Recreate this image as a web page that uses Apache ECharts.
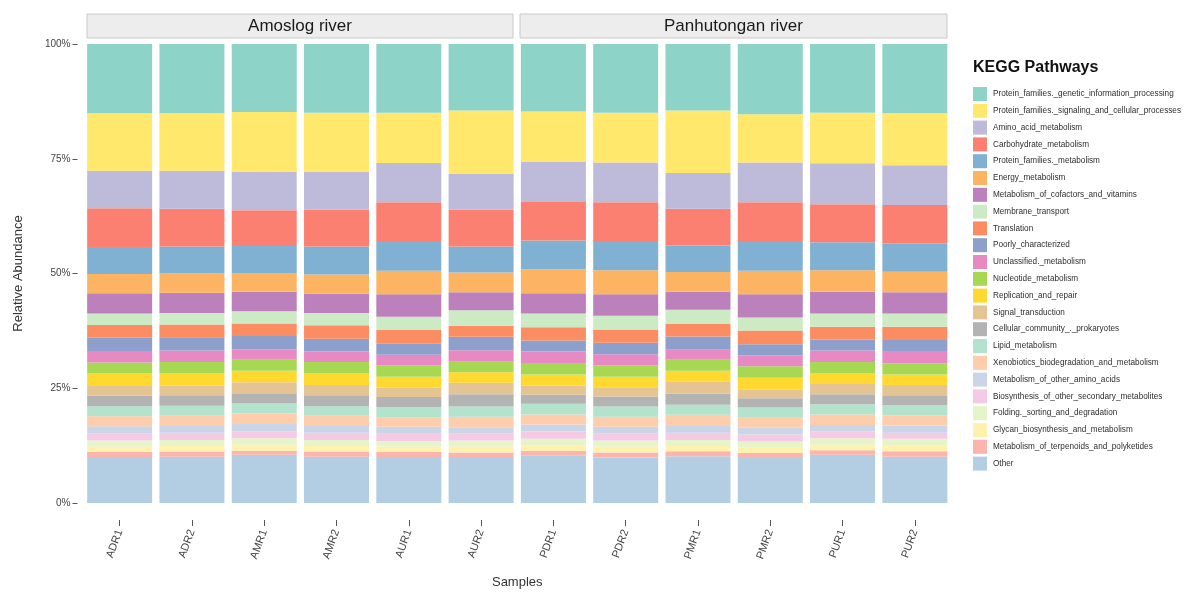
<!DOCTYPE html>
<html>
<head>
<meta charset="utf-8">
<script src="https://cdn.jsdelivr.net/npm/echarts@6/dist/echarts.min.js"></script>
<style>
  html, body { margin: 0; padding: 0; background: #ffffff; }
  #chart { width: 1187px; height: 592px; }
</style>
</head>
<body>
<div id="chart"></div>
<script>
// Samples along the x axis, grouped by river
const samples = ['ADR1', 'ADR2', 'AMR1', 'AMR2', 'AUR1', 'AUR2', 'PDR1', 'PDR2', 'PMR1', 'PMR2', 'PUR1', 'PUR2'];
const rivers = ['Amoslog river', 'Panhutongan river'];
const yTicks = [0, 25, 50, 75, 100];

// KEGG pathways, listed from the top of each bar to the bottom
const pathways = [
  'Protein_families._genetic_information_processing',
  'Protein_families._signaling_and_cellular_processes',
  'Amino_acid_metabolism',
  'Carbohydrate_metabolism',
  'Protein_families._metabolism',
  'Energy_metabolism',
  'Metabolism_of_cofactors_and_vitamins',
  'Membrane_transport',
  'Translation',
  'Poorly_characterized',
  'Unclassified._metabolism',
  'Nucleotide_metabolism',
  'Replication_and_repair',
  'Signal_transduction',
  'Cellular_community_._prokaryotes',
  'Lipid_metabolism',
  'Xenobiotics_biodegradation_and_metabolism',
  'Metabolism_of_other_amino_acids',
  'Biosynthesis_of_other_secondary_metabolites',
  'Folding._sorting_and_degradation',
  'Glycan_biosynthesis_and_metabolism',
  'Metabolism_of_terpenoids_and_polyketides',
  'Other'
];

const pathwayColors = [
  '#8DD3C7', '#FFE86C', '#BEBADA', '#FB8072', '#80B1D3', '#FDB462',
  '#BC80BD', '#CCEBC5', '#FC8D62', '#8DA0CB', '#E78AC3', '#A6D854',
  '#FFD92F', '#E5C494', '#B3B3B3', '#B3E2CD', '#FDCDAC', '#CBD5E8',
  '#F4CAE4', '#E6F5C9', '#FFF2AE', '#FBB4AE', '#B3CDE3'
];

// Relative abundance (%) per sample, same order as pathways
const ADR1 = [15.1, 12.5, 8.2, 8.4, 5.9, 4.2, 4.4, 2.5, 2.8, 2.9, 2.5, 2.4, 2.7, 2.1, 2.3, 2.2, 2.2, 1.5, 1.6, 1.3, 1.2, 1.1, 10.0];
const ADR2 = [15.1, 12.5, 8.3, 8.2, 5.9, 4.2, 4.4, 2.5, 2.8, 2.9, 2.5, 2.4, 2.7, 2.1, 2.3, 2.2, 2.2, 1.5, 1.6, 1.3, 1.2, 1.1, 10.1];
const AMR1 = [14.8, 13.1, 8.3, 7.8, 5.9, 4.1, 4.2, 2.7, 2.7, 2.9, 2.3, 2.4, 2.5, 2.4, 2.2, 2.2, 2.3, 1.6, 1.5, 1.4, 1.3, 0.9, 10.5];
const AMR2 = [15.0, 12.9, 8.2, 8.0, 6.1, 4.2, 4.2, 2.7, 2.9, 2.8, 2.3, 2.5, 2.5, 2.2, 2.4, 2.1, 2.2, 1.5, 1.6, 1.3, 1.2, 1.1, 10.1];
const AUR1 = [15.0, 10.9, 8.6, 8.4, 6.5, 5.1, 4.9, 2.9, 3.0, 2.4, 2.3, 2.5, 2.4, 2.0, 2.2, 2.2, 2.1, 1.5, 1.6, 1.2, 1.2, 1.1, 10.0];
const AUR2 = [14.5, 13.8, 7.8, 8.0, 5.7, 4.3, 3.9, 3.4, 2.4, 2.9, 2.5, 2.3, 2.3, 2.5, 2.7, 2.2, 2.3, 1.3, 1.6, 1.3, 1.3, 1.0, 10.0];
const PDR1 = [14.7, 11.0, 8.7, 8.4, 6.3, 5.2, 4.4, 3.0, 2.9, 2.4, 2.5, 2.5, 2.4, 2.0, 2.0, 2.3, 2.2, 1.5, 1.6, 1.5, 1.1, 1.1, 10.3];
const PDR2 = [15.0, 10.8, 8.7, 8.4, 6.4, 5.2, 4.7, 3.0, 2.9, 2.5, 2.4, 2.5, 2.3, 2.0, 2.2, 2.2, 2.2, 1.4, 1.6, 1.3, 1.3, 1.1, 9.9];
const PMR1 = [14.5, 13.6, 7.8, 8.0, 5.8, 4.3, 3.9, 3.1, 2.7, 2.9, 2.2, 2.4, 2.3, 2.7, 2.4, 2.2, 2.4, 1.5, 1.6, 1.3, 1.1, 1.1, 10.2];
const PMR2 = [15.3, 10.5, 8.7, 8.4, 6.5, 5.1, 5.1, 2.8, 3.0, 2.4, 2.4, 2.5, 2.5, 2.0, 2.0, 2.2, 2.2, 1.5, 1.5, 1.2, 1.3, 1.1, 9.8];
const PUR1 = [15.0, 11.0, 8.9, 8.3, 6.1, 4.7, 4.7, 2.9, 2.8, 2.4, 2.5, 2.5, 2.3, 2.2, 2.2, 2.2, 2.3, 1.4, 1.5, 1.4, 1.2, 1.0, 10.5];
const PUR2 = [15.1, 11.3, 8.7, 8.3, 6.2, 4.5, 4.6, 2.9, 2.9, 2.4, 2.7, 2.4, 2.3, 2.2, 2.2, 2.2, 2.2, 1.6, 1.3, 1.5, 1.2, 1.2, 10.1];

const sampleValues = [ADR1, ADR2, AMR1, AMR2, AUR1, AUR2, PDR1, PDR2, PMR1, PMR2, PUR1, PUR2];

const FONT = 'Liberation Sans, Arial, sans-serif';
const chart = echarts.init(document.getElementById('chart'), null, { renderer: 'canvas' });

// Stacked series: the first series sits at the bottom, so add them bottom-up
const series = [];
for (let p = pathways.length - 1; p >= 0; p--) {
  series.push({
    name: pathways[p],
    type: 'bar',
    stack: 'abundance',
    barWidth: 65,
    itemStyle: { color: pathwayColors[p] },
    emphasis: { disabled: true },
    data: sampleValues.map(v => v[p])
  });
}

// Facet strips above the two river groups
function strip(x, w, label) {
  return {
    type: 'group',
    children: [
      { type: 'rect', shape: { x: x, y: 14, width: w, height: 24 },
        style: { fill: '#EDEDED', stroke: '#C9C9C9', lineWidth: 1 } },
      { type: 'text', x: x + w / 2, y: 26,
        style: { text: label, font: '17px ' + FONT, fill: '#1A1A1A', align: 'center', verticalAlign: 'middle' } }
    ]
  };
}

chart.setOption({
  animation: false,
  backgroundColor: '#ffffff',
  title: {
    text: 'KEGG Pathways',
    left: 973, top: 60, padding: 0,
    textStyle: { fontFamily: FONT, fontSize: 16, fontWeight: 'bold', color: '#111111' }
  },
  legend: {
    orient: 'vertical',
    left: 973, top: 87, padding: 0,
    itemWidth: 14, itemHeight: 14, itemGap: 2.8,
    icon: 'rect',
    selectedMode: false,
    data: pathways,
    textStyle: { fontFamily: FONT, fontSize: 8.2, color: '#2E2E2E', padding: [0, 0, 0, 1] }
  },
  grid: {
    left: 83.5, right: 236, top: 44, bottom: 89,
    containLabel: false,
    outerBoundsMode: 'none'
  },
  xAxis: {
    type: 'category',
    data: samples,
    offset: 17,
    name: 'Samples',
    nameLocation: 'middle',
    nameGap: 56,
    nameTextStyle: { fontFamily: FONT, fontSize: 13, color: '#333333' },
    axisLine: { show: false, onZero: false },
    axisTick: { show: true, alignWithLabel: true, length: 6, lineStyle: { color: '#555555' } },
    axisLabel: { rotate: 70, margin: 10, fontFamily: FONT, fontSize: 11, color: '#444444' }
  },
  yAxis: {
    type: 'value',
    min: 0, max: 100, interval: 25,
    offset: 6,
    name: 'Relative Abundance',
    nameLocation: 'middle',
    nameGap: 53,
    nameTextStyle: { fontFamily: FONT, fontSize: 13, color: '#333333' },
    axisLine: { show: false, onZero: false },
    axisTick: { show: true, length: 5, lineStyle: { color: '#555555' } },
    splitLine: { show: false },
    axisLabel: {
      margin: 7,
      fontFamily: FONT, fontSize: 10, color: '#444444',
      formatter: v => (yTicks.includes(v) ? v + '%' : '')
    }
  },
  graphic: [strip(87, 426, rivers[0]), strip(520, 427, rivers[1])],
  series: series
});
</script>
</body>
</html>
